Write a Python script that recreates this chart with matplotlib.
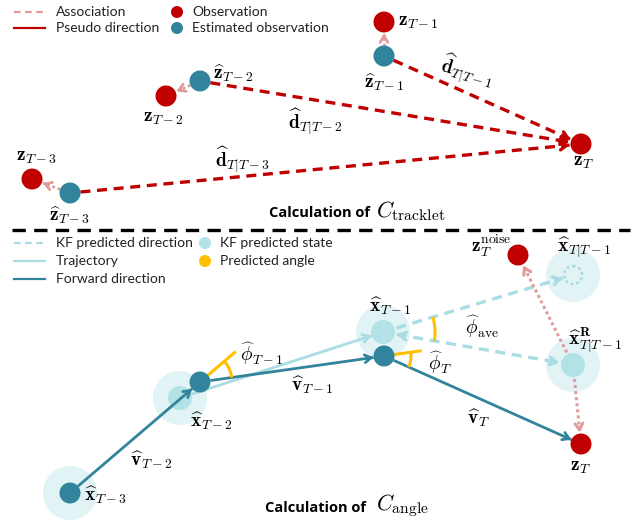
import numpy as np
import matplotlib
matplotlib.use("Agg")
import matplotlib.pyplot as plt
from matplotlib.patches import Circle, Arc

plt.rcParams['mathtext.fontset'] = 'cm'

# colours
RED = '#c00000'
PINK = '#e09c9c'
TEAL = '#31849b'
CYAN = '#a9dde3'
CYAN_DOT = '#b3e2e6'
HALO = '#e2f3f5'
GOLD = '#ffc000'

# ---- top panel (pixel positions) ----
obs_x = [32, 166, 384, 581]          # z_{T-3}, z_{T-2}, z_{T-1}, z_T
obs_y = [179, 96, 22, 144]
est_x = [70, 200, 384]               # zhat_{T-3}, zhat_{T-2}, zhat_{T-1}
est_y = [193, 81, 56]

# ---- bottom panel ----
state_x = [70, 200, 384]             # teal states x_{T-3}, x_{T-2}, x_{T-1}
state_y = [493, 382, 356]
halo_x = [70, 180, 383, 573, 573]
halo_y = [493, 398, 332, 275, 365]
kf_x = [180, 383, 573]               # KF predicted states
kf_y = [398, 332, 365]
pred_x, pred_y = 573, 275            # xhat_{T|T-1}
zT_x, zT_y = 581, 444
noise_x, noise_y = 518, 255

R_DOT = 10.5
R_KF = 12
R_HALO = 27

fig = plt.figure(figsize=(6.41, 5.23), dpi=100)
ax = fig.add_axes([0, 0, 1, 1])
ax.set_xlim(0, 641)
ax.set_ylim(523, 0)
ax.axis('off')


def link(a, b, ra, rb, color, ls, lw, head=True, tail=False, hl=7):
    a = np.array(a, float)
    b = np.array(b, float)
    u = (b - a) / np.linalg.norm(b - a)
    p0 = a + u * ra
    p1 = b - u * rb
    ax.plot([p0[0], p1[0]], [p0[1], p1[1]], color=color, ls=ls, lw=lw,
            solid_capstyle='butt', zorder=2)
    st = '->,head_length=0.45,head_width=0.28'
    if head:
        ax.annotate('', xy=p1, xytext=p1 - u * hl,
                    arrowprops=dict(arrowstyle=st, color=color, lw=lw,
                                    shrinkA=0, shrinkB=0), zorder=3)
    if tail:
        ax.annotate('', xy=p0, xytext=p0 + u * hl,
                    arrowprops=dict(arrowstyle=st, color=color, lw=lw,
                                    shrinkA=0, shrinkB=0), zorder=3)


def dot(x, y, r, color, z=4):
    ax.add_patch(Circle((x, y), r, color=color, lw=0, zorder=z))


def angle(c, d1, d2, r, ext=None):
    c = np.array(c, float)
    a1 = np.degrees(np.arctan2(d1[1], d1[0]))
    a2 = np.degrees(np.arctan2(d2[1], d2[0]))
    ax.add_patch(Arc(c, 2 * r, 2 * r, theta1=min(a1, a2), theta2=max(a1, a2),
                     color=GOLD, lw=2.2, zorder=3))
    if ext is not None:
        u = np.array(d1, float) / np.linalg.norm(d1)
        ax.plot([c[0], c[0] + u[0] * ext], [c[1], c[1] + u[1] * ext],
                color=GOLD, lw=2.2, zorder=3, solid_capstyle='butt')


# ================= top panel =================
for i in range(3):
    link((est_x[i], est_y[i]), (obs_x[3], obs_y[3]), R_DOT, R_DOT + 1,
         RED, (0, (3, 2)), 2.4)
    link((est_x[i], est_y[i]), (obs_x[i], obs_y[i]), R_DOT, R_DOT + 1,
         PINK, (0, (1, 1)), 2.0, hl=5)
for x, y in zip(obs_x, obs_y):
    dot(x, y, R_DOT, RED)
for x, y in zip(est_x, est_y):
    dot(x, y, R_DOT, TEAL)

m = 14
ax.text(398, 22, r'$\mathbf{z}_{T-1}$', fontsize=m, va='center')
ax.text(384, 82, r'$\widehat{\mathbf{z}}_{T-1}$', fontsize=m, ha='center', va='center')
ax.text(437, 72, r'$\widehat{\mathbf{d}}_{T|T-1}$', fontsize=m, va='center', rotation=-16)
ax.text(213, 73, r'$\widehat{\mathbf{z}}_{T-2}$', fontsize=m, va='center')
ax.text(163, 118, r'$\mathbf{z}_{T-2}$', fontsize=m, ha='center', va='center')
ax.text(288, 122, r'$\widehat{\mathbf{d}}_{T|T-2}$', fontsize=m, va='center')
ax.text(215, 160, r'$\widehat{\mathbf{d}}_{T|T-3}$', fontsize=m, va='center')
ax.text(37, 157, r'$\mathbf{z}_{T-3}$', fontsize=m, ha='center', va='center')
ax.text(70, 215, r'$\widehat{\mathbf{z}}_{T-3}$', fontsize=m, ha='center', va='center')
ax.text(584, 162, r'$\mathbf{z}_T$', fontsize=m, ha='center', va='center')

ax.text(370, 213, 'Calculation of', fontsize=10.5, fontweight='bold',
        family='Open Sans', ha='right', va='center')
ax.text(376, 211, r'$C_{\mathrm{tracklet}}$', fontsize=16, va='center')

# separator
ax.plot([12, 630], [230, 230], color='black', lw=2.4, ls=(0, (4, 2.5)))

# top legend
lf = dict(fontsize=10, family='Lato', va='center', color='#222222')
ax.plot([14, 45], [12, 12], color=PINK, lw=1.6, ls=(0, (3, 2)))
ax.text(56, 12, 'Association', **lf)
ax.plot([14, 45], [28, 28], color=RED, lw=1.6)
ax.text(56, 28, 'Pseudo direction', **lf)
dot(177, 12, 6, RED)
ax.text(192, 12, 'Observation', **lf)
dot(177, 28, 6, TEAL)
ax.text(192, 28, 'Estimated observation', **lf)

# ================= bottom panel =================
for x, y in zip(halo_x, halo_y):
    dot(x, y, R_HALO, HALO, z=1)
for x, y in zip(kf_x, kf_y):
    dot(x, y, R_KF, CYAN_DOT, z=2)
ax.add_patch(Circle((pred_x, pred_y), 9, fill=False, ec=CYAN, lw=2,
                    ls=(0, (1, 1)), zorder=3))

# trajectory (KF states)
link((kf_x[0], kf_y[0]), (kf_x[1], kf_y[1]), 0, R_KF, CYAN, '-', 2.0)
# KF predicted directions
link((kf_x[1], kf_y[1]), (pred_x, pred_y), 14, 11, CYAN, (0, (3, 2)), 2.4)
link((kf_x[1], kf_y[1]), (kf_x[2], kf_y[2]), 14, 14, CYAN, (0, (3, 2)), 2.4, tail=True)

# forward directions
link((state_x[0], state_y[0]), (state_x[1], state_y[1]), R_DOT, R_DOT,
     TEAL, '-', 2.0)
link((state_x[1], state_y[1]), (state_x[2], state_y[2]), R_DOT, R_DOT,
     TEAL, '-', 2.0)
link((state_x[2], state_y[2]), (zT_x, zT_y), R_DOT, R_DOT, TEAL, '-', 2.0)

# association from the re-predicted state
link((kf_x[2], kf_y[2]), (noise_x, noise_y), 14, R_DOT + 1, PINK, (0, (1, 1)), 2.2, hl=5)
link((kf_x[2], kf_y[2]), (zT_x, zT_y), 14, R_DOT + 1, PINK, (0, (1, 1)), 2.2, hl=5)

# angles
v_prev = (state_x[1] - state_x[0], state_y[1] - state_y[0])
v_mid = (state_x[2] - state_x[1], state_y[2] - state_y[1])
v_last = (zT_x - state_x[2], zT_y - state_y[2])
angle((state_x[1], state_y[1]), v_prev, v_mid, 32, ext=47)
angle((state_x[2], state_y[2]), v_mid, v_last, 27, ext=38)
angle((kf_x[1], kf_y[1]), (pred_x - kf_x[1], pred_y - kf_y[1]),
      (kf_x[2] - kf_x[1], kf_y[2] - kf_y[1]), 52)

for x, y in zip(state_x, state_y):
    dot(x, y, R_DOT, TEAL, z=5)
dot(zT_x, zT_y, R_DOT, RED, z=5)
dot(noise_x, noise_y, R_DOT, RED, z=5)

ax.text(84, 495, r'$\widehat{\mathbf{x}}_{T-3}$', fontsize=m, va='center')
ax.text(130, 460, r'$\widehat{\mathbf{v}}_{T-2}$', fontsize=m, va='center')
ax.text(190, 421, r'$\widehat{\mathbf{x}}_{T-2}$', fontsize=m, va='center')
ax.text(240, 354, r'$\widehat{\phi}_{T-1}$', fontsize=m, va='center')
ax.text(291, 385, r'$\widehat{\mathbf{v}}_{T-1}$', fontsize=m, va='center')
ax.text(369, 306, r'$\widehat{\mathbf{x}}_{T-1}$', fontsize=m, va='center')
ax.text(428, 363, r'$\widehat{\phi}_T$', fontsize=m, va='center')
ax.text(465, 327, r'$\widehat{\phi}_{\mathrm{ave}}$', fontsize=m, va='center')
ax.text(467, 418, r'$\widehat{\mathbf{v}}_T$', fontsize=m, va='center')
ax.text(581, 466, r'$\mathbf{z}_T$', fontsize=m, ha='center', va='center')
ax.text(471, 246, r'$\mathbf{z}_T^{\mathrm{noise}}$', fontsize=m, va='center')
ax.text(557, 248, r'$\widehat{\mathbf{x}}_{T|T-1}$', fontsize=m, va='center')
ax.text(568, 340, r'$\widehat{\mathbf{x}}^{\mathbf{R}}_{T|T-1}$', fontsize=m, va='center')

ax.text(366, 508, 'Calculation of', fontsize=10.5, fontweight='bold',
        family='Open Sans', ha='right', va='center')
ax.text(376, 506, r'$C_{\mathrm{angle}}$', fontsize=16, va='center')

# bottom legend
ax.plot([14, 45], [243, 243], color=CYAN, lw=1.6, ls=(0, (3, 2)))
ax.text(56, 243, 'KF predicted direction', **lf)
ax.plot([14, 45], [261, 261], color=CYAN, lw=1.6)
ax.text(56, 261, 'Trajectory', **lf)
ax.plot([14, 45], [279, 279], color=TEAL, lw=1.6)
ax.text(56, 279, 'Forward direction', **lf)
dot(205, 243, 6, CYAN_DOT)
ax.text(220, 243, 'KF predicted state', **lf)
dot(205, 261, 6, GOLD)
ax.text(220, 261, 'Predicted angle', **lf)

fig.savefig('out.png', dpi=100)
